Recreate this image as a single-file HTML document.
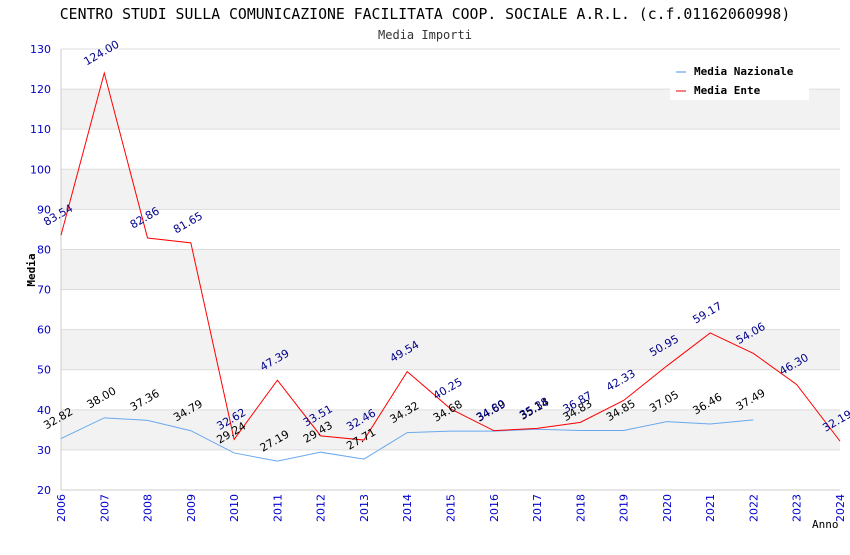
<!DOCTYPE html>
<html><head><meta charset="utf-8"><style>
body{margin:0;background:#fff}
svg text{font-family:"DejaVu Sans Mono","Liberation Mono",monospace}
svg text.s{font-family:"DejaVu Sans","Liberation Sans",sans-serif}
</style></head><body>
<svg id="c" width="850" height="550" xmlns="http://www.w3.org/2000/svg">
<text x="425" y="19" text-anchor="middle" font-size="14.8" fill="#000">CENTRO STUDI SULLA COMUNICAZIONE FACILITATA COOP. SOCIALE A.R.L. (c.f.01162060998)</text>
<text x="425" y="39" text-anchor="middle" font-size="12" fill="#333">Media Importi</text>
<g id="bands"></g><g id="grid"></g><g id="axes"></g><g id="series"></g><g id="labels"></g>
<text x="35" y="270" font-size="11" font-weight="bold" transform="rotate(-90 35 270)" text-anchor="middle">Media</text>
<text x="812" y="528" font-size="11">Anno</text>
<g>
<rect x="670" y="58" width="139" height="42" fill="#fff"/>
<line x1="676" y1="72" x2="686" y2="72" stroke="#4a90e2"/>
<text x="694" y="75" font-size="11" font-weight="bold">Media Nazionale</text>
<line x1="676" y1="91" x2="686" y2="91" stroke="#e00"/>
<text x="694" y="94" font-size="11" font-weight="bold">Media Ente</text>
</g>
</svg>
<script>
const years=[2006,2007,2008,2009,2010,2011,2012,2013,2014,2015,2016,2017,2018,2019,2020,2021,2022,2023,2024];
const ente=[83.54,124.00,82.86,81.65,32.62,47.39,33.51,32.46,49.54,40.25,34.80,35.38,36.87,42.33,50.95,59.17,54.06,46.30,32.19];
const naz=[32.82,38.00,37.36,34.79,29.24,27.19,29.43,27.71,34.32,34.68,34.69,35.14,34.83,34.85,37.05,36.46,37.49];
const yTicks=[20,30,40,50,60,70,80,90,100,110,120,130];
const NS="http://www.w3.org/2000/svg";
const X=i=>61+i*(779/18), Y=v=>490-(v-20)*(441/110);
function mk(t,a,p){const e=document.createElementNS(NS,t);for(const k in a)e.setAttribute(k,a[k]);document.getElementById(p).appendChild(e);return e;}
for(let v=30;v<130;v+=20){const r=mk('rect',{x:61,y:Y(v+10),width:779,height:Y(v)-Y(v+10),fill:'#f2f2f2'},'bands');

}
yTicks.forEach(v=>{const l=mk('line',{x1:61,x2:840,y1:Y(v),y2:Y(v),stroke:'#ddd'},'grid');


const t=mk('text',{x:51,y:Y(v)+4,'text-anchor':'end','font-size':11,fill:'#00c',class:'s'},'axes');t.textContent=v;

});
mk('line',{x1:61,x2:61,y1:49,y2:490,stroke:'#ccc'},'axes');
mk('line',{x1:61,x2:840,y1:490,y2:490,stroke:'#ccc'},'axes');
years.forEach((y,i)=>{const x=X(i);const t=mk('text',{x:x+4,y:494,'text-anchor':'end','font-size':11,fill:'#00c',class:'s',transform:`rotate(-90 ${x+4} 494)`},'axes');t.textContent=y;

});
function series(d,col,lcol,name){const p=mk('polyline',{points:d.map((v,i)=>X(i)+','+Y(v)).join(' '),fill:'none',stroke:col,'stroke-width':1},'series');


d.forEach((v,i)=>{const x=X(i)-1,y=Y(v)-17;const t=mk('text',{x:x,y:y,'text-anchor':'middle','font-size':11,fill:lcol,class:'s',transform:`rotate(-30 ${x} ${y})`},'labels');t.textContent=v.toFixed(2);

});}
series(naz,'#6aa8ee','#000','nazionale');
series(ente,'#f00','#00008b','ente');
</script>
</body></html>
